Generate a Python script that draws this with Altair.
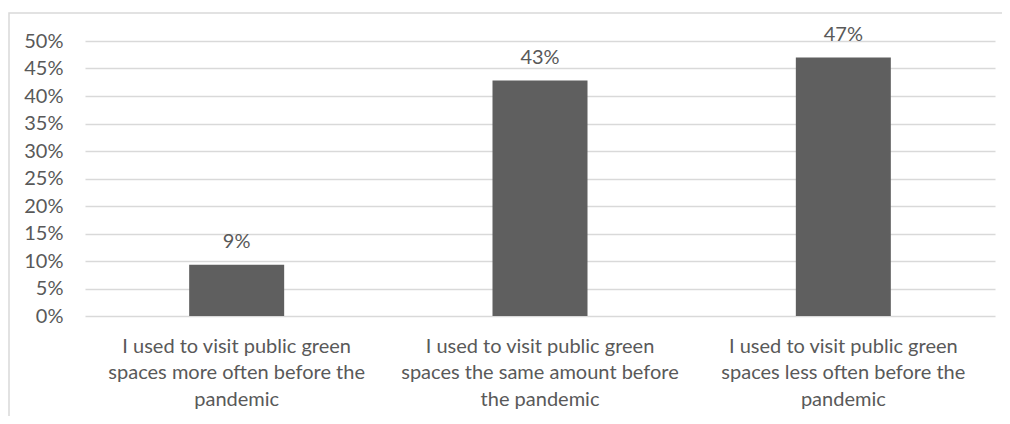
import altair as alt
import pandas as pd

categories = [
    "I used to visit public green\nspaces more often before the\npandemic",
    "I used to visit public green\nspaces the same amount before\nthe pandemic",
    "I used to visit public green\nspaces less often before the\npandemic",
]
values = [0.093, 0.428, 0.470]
value_labels = ["9%", "43%", "47%"]
y_ticks = [0, 0.05, 0.10, 0.15, 0.20, 0.25, 0.30, 0.35, 0.40, 0.45, 0.50]

df = pd.DataFrame({"cat": categories, "val": values, "lab": value_labels})

FONT = "Lato"
FS = 20
TXT = "#595959"
GRID = "#d9d9d9"

x_enc = alt.X(
    "cat:N",
    sort=categories,
    scale=alt.Scale(paddingInner=0, paddingOuter=0),
    axis=alt.Axis(
        title=None,
        labelAngle=0,
        labelExpr="split(datum.label, '\\n')",
        labelFont=FONT,
        labelFontSize=FS,
        labelColor=TXT,
        labelLineHeight=26.7,
        labelPadding=20,
        labelBaseline="top",
        labelLimit=0,
        domain=False,
        ticks=False,
        grid=False,
    ),
)
y_enc = alt.Y(
    "val:Q",
    scale=alt.Scale(domain=[0, 0.5], nice=False),
    axis=alt.Axis(
        title=None,
        values=y_ticks,
        format=".0%",
        labelFont=FONT,
        labelFontSize=FS,
        labelColor=TXT,
        labelPadding=22,
        labelOverlap=False,
        domain=False,
        ticks=False,
        gridColor=GRID,
        gridWidth=1.3,
    ),
)

border = alt.Chart(pd.DataFrame({"a": [0]})).mark_rect(
    fill=None, stroke=GRID, strokeWidth=1.5, clip=False
).encode(
    x=alt.value(-76), x2=alt.value(940), y=alt.value(-28), y2=alt.value(420)
)

bars = alt.Chart(df).mark_bar(size=95, color="#5f5f5f").encode(x=x_enc, y=y_enc)
texts = alt.Chart(df).mark_text(
    font=FONT, fontSize=FS, color=TXT, baseline="alphabetic", dy=-17
).encode(x=x_enc, y=y_enc, text="lab:N")

chart = alt.layer(border, bars, texts).properties(
    width=910,
    height=275,
    autosize=alt.AutoSizeParams(type="none"),
    padding={"left": 77, "top": 33, "right": 7, "bottom": 100},
).configure(background="white").configure_view(stroke=None)

chart.save("out.html", embed_options={"renderer": "svg", "actions": False})
